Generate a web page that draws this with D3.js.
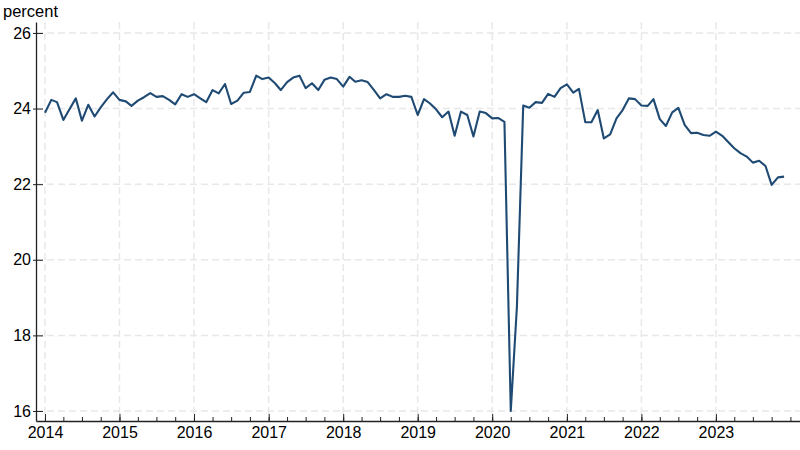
<!DOCTYPE html>
<html>
<head>
<meta charset="utf-8">
<script src="https://cdn.jsdelivr.net/npm/d3@7"></script>
<style>
  body { margin: 0; background: #fff; }
  svg text { font-family: "Liberation Sans", Arial, sans-serif; fill: #000; }
</style>
</head>
<body>
<div id="chart"></div>
<script>
// monthly values, Jan 2014 .. Dec 2023 (percent)
const startYear = 2014;
const values = [
  23.89, 24.23, 24.17, 23.70, 23.98, 24.27, 23.68, 24.10, 23.79, 24.03, 24.25, 24.43,
  24.23, 24.19, 24.07, 24.21, 24.30, 24.41, 24.31, 24.33, 24.23, 24.11, 24.38, 24.31,
  24.38, 24.27, 24.17, 24.49, 24.40, 24.65, 24.12, 24.21, 24.42, 24.44, 24.87, 24.78,
  24.82, 24.67, 24.49, 24.70, 24.82, 24.87, 24.54, 24.67, 24.49, 24.76, 24.82, 24.78,
  24.58, 24.84, 24.71, 24.75, 24.70, 24.49, 24.27, 24.38, 24.31, 24.31, 24.34, 24.31,
  23.83, 24.25, 24.14, 23.98, 23.77, 23.92, 23.28, 23.92, 23.83, 23.26, 23.92, 23.88,
  23.74, 23.75, 23.65, 16.00, 18.75, 24.08, 24.02, 24.17, 24.15, 24.39, 24.31, 24.54,
  24.64, 24.42, 24.52, 23.64, 23.64, 23.96, 23.21, 23.32, 23.74, 23.96, 24.27, 24.25,
  24.08, 24.07, 24.25, 23.72, 23.54, 23.90, 24.02, 23.57, 23.35, 23.36, 23.30, 23.28,
  23.39, 23.28, 23.12, 22.95, 22.82, 22.73, 22.57, 22.62, 22.48, 21.98, 22.18, 22.20
];
const yearTicks = [2014, 2015, 2016, 2017, 2018, 2019, 2020, 2021, 2022, 2023];
const yTicks = [16, 18, 20, 22, 24, 26];
const yLabel = "percent";

const width = 800, height = 450;
const data = values.map((v, i) => ({ date: new Date(startYear, i, 1), value: v }));

const x = d3.scaleTime()
    .domain([new Date(2013, 10, 18), new Date(2024, 1, 17)])
    .range([36, 800]);

const y = d3.scaleLinear()
    .domain([15.735, 26.29])
    .range([421, 22]);

const svg = d3.select("#chart").append("svg")
    .attr("width", width)
    .attr("height", height);

// grid
svg.append("g")
    .selectAll("line")
    .data(yTicks)
    .enter().append("line")
    .attr("x1", 36).attr("x2", 800)
    .attr("y1", d => y(d)).attr("y2", d => y(d))
    .attr("stroke", "#e8e8e8")
    .attr("stroke-width", 1.5)
    .attr("stroke-dasharray", "7,4");

svg.append("g")
    .selectAll("line")
    .data(yearTicks)
    .enter().append("line")
    .attr("x1", d => x(new Date(d, 0, 1))).attr("x2", d => x(new Date(d, 0, 1)))
    .attr("y1", 22).attr("y2", 421)
    .attr("stroke", "#e8e8e8")
    .attr("stroke-width", 1.5)
    .attr("stroke-dasharray", "7,4");

// minor quarterly ticks on x axis
const quarters = d3.timeMonth.every(3).range(new Date(2014, 0, 1), new Date(2024, 0, 2));
svg.append("g")
    .attr("transform", "translate(0," + 421 + ")")
    .call(d3.axisBottom(x).tickValues(quarters).tickSize(-4).tickFormat(""))
    .call(g => g.select(".domain").remove())
    .call(g => g.selectAll("line").attr("stroke", "#222"));

// x axis
svg.append("g")
    .attr("transform", "translate(0," + 421 + ")")
    .call(d3.axisBottom(x)
        .tickValues(yearTicks.map(d => new Date(d, 0, 1)))
        .tickSize(-7)
        .tickSizeOuter(0)
        .tickPadding(6)
        .tickFormat(d3.timeFormat("%Y")))
    .call(g => g.select(".domain").attr("stroke", "#222").attr("stroke-width", 1.3))
    .call(g => g.selectAll("line").attr("stroke", "#222"))
    .call(g => g.selectAll("text").style("font-size", "16px"));

// y axis
svg.append("g")
    .attr("transform", "translate(36,0)")
    .call(d3.axisLeft(y).tickValues(yTicks).tickSize(-7).tickSizeOuter(0).tickPadding(5))
    .call(g => g.select(".domain").attr("stroke", "#222").attr("stroke-width", 1.3))
    .call(g => g.selectAll("line").attr("stroke", "#222").attr("x1", -3))
    .call(g => g.selectAll("text").style("font-size", "16px"));

svg.append("text")
    .attr("x", 3)
    .attr("y", 17)
    .style("font-size", "16.5px")
    .text(yLabel);

const line = d3.line()
    .x(d => x(d.date))
    .y(d => y(d.value));

svg.append("path")
    .datum(data)
    .attr("d", line)
    .attr("fill", "none")
    .attr("stroke", "#1f4a73")
    .attr("stroke-width", 2.1)
    .attr("stroke-linejoin", "round");
</script>
</body>
</html>
